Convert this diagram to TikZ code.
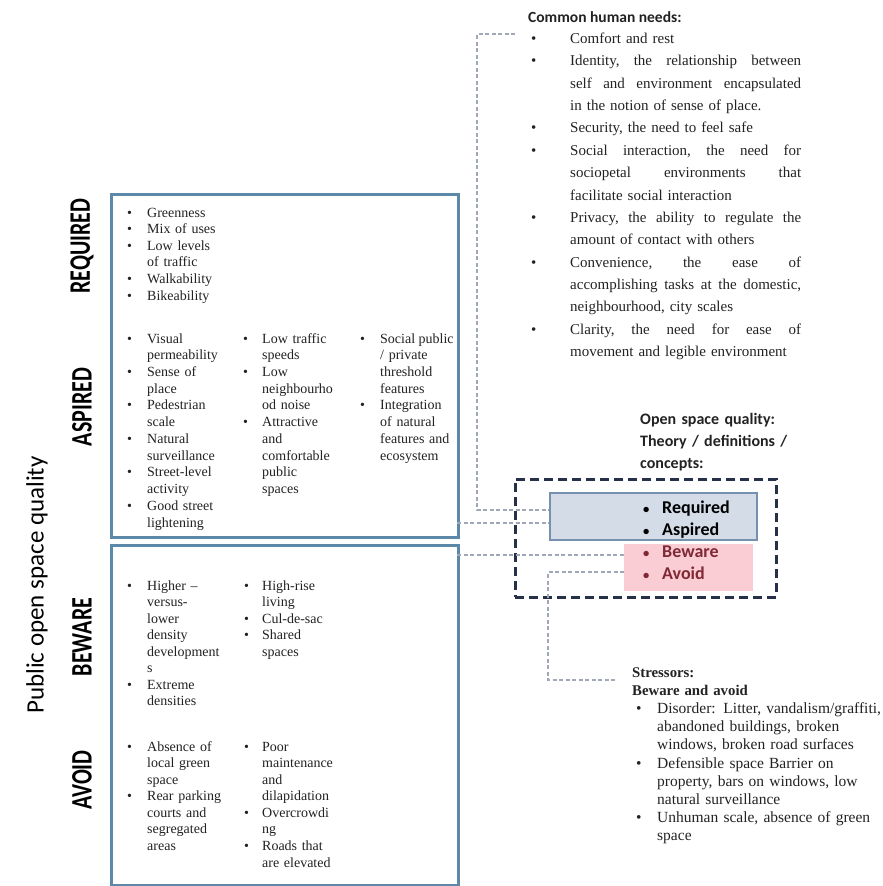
\documentclass[tikz,border=0pt]{standalone}
\usepackage{fontspec}
\setmainfont{Liberation Serif}
\newfontfamily\calfont{Carlito}
\usepackage{graphicx}

\definecolor{boxblue}{RGB}{92,136,170}
\definecolor{navy}{RGB}{38,48,72}
\definecolor{linkgrey}{RGB}{160,168,184}
\definecolor{reqfill}{RGB}{212,220,231}
\definecolor{reqedge}{RGB}{118,144,176}
\definecolor{avoidfill}{RGB}{249,205,211}
\definecolor{avoidtext}{RGB}{128,40,52}
\definecolor{bodytext}{RGB}{34,34,34}

% bullet with a hanging indent of \bw
\newlength\bw
\newcommand\bl{\makebox[\bw][l]{\textbullet}}
\newcommand\sbl{\makebox[\bw][l]{\scalebox{0.7}{\textbullet}}}
\newcommand\ind{\hspace*{\bw}}
% a justified line of a given width
\newcommand\jl[2]{{\frenchspacing\spaceskip=0.25em plus 1fil\relax\hbox to #1{#2}}}
\lineskiplimit=-20pt

\tikzset{
  frame/.style={draw=boxblue, line width=3pt, fill=white, inner sep=0pt, anchor=north west},
  listtxt/.style={anchor=base west, inner sep=0pt, text width=#1, align=left,
    text=bodytext, font=\fontsize{14}{16.6}\selectfont},
  sidelabel/.style={rotate=90, inner sep=0pt, font=\calfont\bfseries\fontsize{22}{24}\selectfont},
  link/.style={draw=linkgrey, line width=1.2pt, dash pattern=on 4pt off 2.5pt},
}

\begin{document}
\begin{tikzpicture}[x=1pt,y=-1pt]
\useasboundingbox (0,0) rectangle (883,886);

% ---- main frames ----
\node[frame, minimum width=347pt, minimum height=343pt] (upper) at (110,193) {};
\node[frame, minimum width=347pt, minimum height=340pt] (lower) at (110,544) {};

% ---- side labels ----
\node[font=\calfont\fontsize{25}{27}\selectfont, rotate=90, inner sep=0pt] (title) at (37,585) {Public open space quality};
\node[sidelabel] (lreq) at (82,246) {\scalebox{1}[1.35]{REQUIRED}};
\node[sidelabel] (lasp) at (82,407) {\scalebox{1}[1.35]{ASPIRED}};
\node[sidelabel] (lbew) at (82,637) {\scalebox{1}[1.35]{BEWARE}};
\node[sidelabel] (lavo) at (82,780) {\scalebox{1}[1.35]{AVOID}};

% ---- required ----
\setlength\bw{20pt}
\node[listtxt=120pt] (req) at (127,217) {\bl Greenness\\ \bl Mix of uses\\ \bl Low levels\\ \ind of traffic\\ \bl Walkability\\ \bl Bikeability};

% ---- aspired ----
\node[listtxt=120pt, font=\fontsize{14}{16.73}\selectfont] (asp1) at (127,343) {\bl Visual\\ \ind permeability\\ \bl Sense of\\ \ind place\\ \bl Pedestrian\\ \ind scale\\ \bl Natural\\ \ind surveillance\\ \bl Street-level\\ \ind activity\\ \bl Good street\\ \ind lightening};
\setlength\bw{19pt}
\node[listtxt=120pt, font=\fontsize{14}{16.73}\selectfont] (asp2) at (243,343) {\bl Low traffic\\ \ind speeds\\ \bl Low\\ \ind neighbourho\\ \ind od noise\\ \bl Attractive\\ \ind and\\ \ind comfortable\\ \ind public\\ \ind spaces};
\setlength\bw{20pt}
\node[listtxt=120pt, font=\fontsize{14}{16.73}\selectfont] (asp3) at (360,343) {\bl \jl{72pt}{Social public}\\ \ind / private\\ \ind threshold\\ \ind features\\ \bl Integration\\ \ind of natural\\ \ind features and\\ \ind ecosystem};

% ---- beware ----
\node[listtxt=120pt, font=\fontsize{14}{16.57}\selectfont] (bew1) at (127,590) {\bl Higher –\\ \ind versus-\\ \ind lower\\ \ind density\\ \ind development\\ \ind s\\ \bl Extreme\\ \ind densities};
\setlength\bw{18pt}
\node[listtxt=120pt, font=\fontsize{14}{16.57}\selectfont] (bew2) at (244,590) {\bl High-rise\\ \ind living\\ \bl Cul-de-sac\\ \bl Shared\\ \ind spaces};

% ---- avoid ----
\setlength\bw{20pt}
\node[listtxt=120pt, font=\fontsize{14}{16.57}\selectfont] (avo1) at (127,751) {\bl Absence of\\ \ind local green\\ \ind space\\ \bl Rear parking\\ \ind courts and\\ \ind segregated\\ \ind areas};
\setlength\bw{18pt}
\node[listtxt=120pt, font=\fontsize{14}{16.57}\selectfont] (avo2) at (244,751) {\bl Poor\\ \ind maintenance\\ \ind and\\ \ind dilapidation\\ \bl Overcrowdi\\ \ind ng\\ \bl Roads that\\ \ind are elevated};

% ---- common human needs ----
\node[anchor=base west, inner sep=0pt, text=bodytext, font=\calfont\bfseries\fontsize{15.5}{17}\selectfont] (needhead) at (528,23) {Common human needs:};
\setlength\bw{39pt}
\node[listtxt=300pt, font=\fontsize{15}{22.36}\selectfont] (needs) at (531,43.5) {%
\bl Comfort and rest\\
\bl \jl{231pt}{Identity, the relationship between}\\
\ind \jl{231pt}{self and environment encapsulated}\\
\ind in the notion of sense of place.\\
\bl Security, the need to feel safe\\
\bl \jl{231pt}{Social interaction, the need for}\\
\ind \jl{231pt}{sociopetal environments that}\\
\ind facilitate social interaction\\
\bl \jl{231pt}{Privacy, the ability to regulate the}\\
\ind amount of contact with others\\
\bl \jl{231pt}{Convenience, the ease of}\\
\ind \jl{231pt}{accomplishing tasks at the domestic,}\\
\ind neighbourhood, city scales\\
\bl \jl{231pt}{Clarity, the need for ease of}\\
\ind movement and legible environment};

% ---- open space quality legend ----
\node[anchor=base west, inner sep=0pt, text width=200pt, align=left, text=bodytext,
  font=\calfont\bfseries\fontsize{16}{22}\selectfont] (osqhead) at (640,424) {Open space quality:\\ Theory / definitions /\\ concepts:};
\node[draw=navy, line width=2.5pt, dash pattern=on 9pt off 5pt, inner sep=0pt, anchor=north west,
  minimum width=261pt, minimum height=118pt] (legend) at (514,478) {};
\node[draw=reqedge, line width=1.5pt, fill=reqfill, inner sep=0pt, anchor=north west,
  minimum width=207pt, minimum height=47pt] (reqbox) at (549,492) {};
\node[fill=avoidfill, inner sep=0pt, anchor=north west,
  minimum width=129pt, minimum height=47pt] (avbox) at (624,544) {};
\setlength\bw{19pt}
\node[anchor=base west, inner sep=0pt, text width=120pt, align=left, text=black,
  font=\calfont\bfseries\fontsize{18}{22}\selectfont] (reqitems) at (643,513) {\sbl Required\\ \sbl Aspired};
\node[anchor=base west, inner sep=0pt, text width=120pt, align=left, text=avoidtext,
  font=\calfont\bfseries\fontsize{18}{21.5}\selectfont] (avitems) at (643,557.5) {\sbl Beware\\ \sbl Avoid};

% ---- stressors ----
\node[anchor=base west, inner sep=0pt, text=bodytext, font=\bfseries\fontsize{14.8}{18.1}\selectfont,
  text width=200pt, align=left] (strhead) at (632,677.5) {Stressors:\\ Beware and avoid};
\setlength\bw{21pt}
\node[listtxt=260pt, font=\fontsize{15.5}{18.1}\selectfont] (stress) at (636,713.7) {%
\bl Disorder: Litter, vandalism/graffiti,\\
\ind abandoned buildings, broken\\
\ind windows, broken road surfaces\\
\bl Defensible space Barrier on\\
\ind property, bars on windows, low\\
\ind natural surveillance\\
\bl Unhuman scale, absence of green\\
\ind space};

% ---- connectors ----
\coordinate (needend) at (515,34);
\coordinate (needbend) at (477,34);
\draw[link] (needend) -- (needbend) -- (needbend |- 0,510) -- (reqbox.west |- 0,510);
\coordinate (upout) at (457,523);
\draw[link] (upout) -- (upout -| reqbox.west);
\coordinate (lowout) at (457,555);
\draw[link] (lowout) -- (lowout -| avbox.west);
\coordinate (avout) at (624,572);
\coordinate (strbend) at (548,572);
\coordinate (strend) at (617,680);
\draw[link] (avout) -- (strbend) -- (strbend |- strend) -- (strend);
\end{tikzpicture}
\end{document}
